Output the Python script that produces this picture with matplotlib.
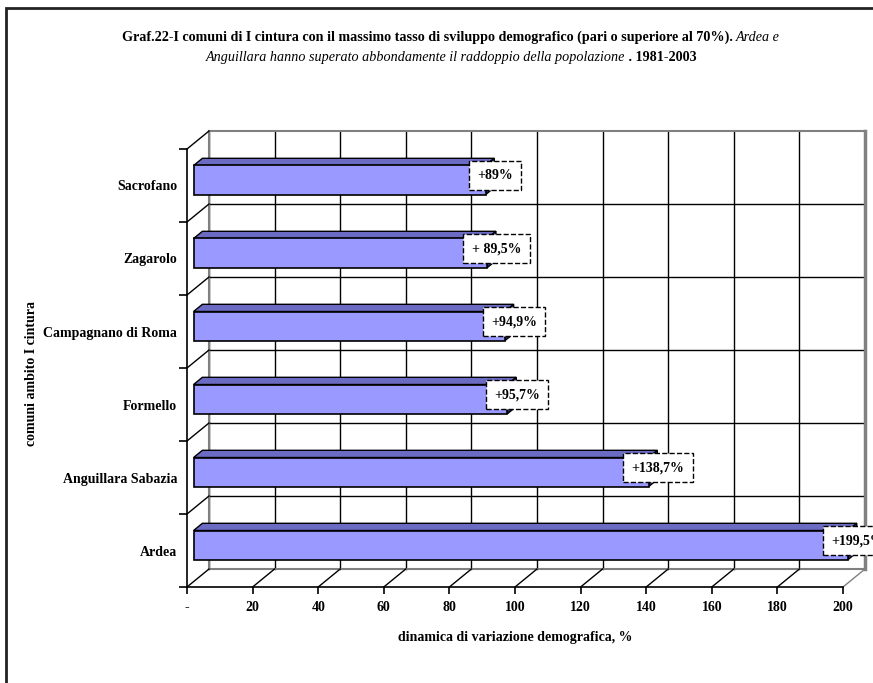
import matplotlib
matplotlib.use("Agg")
import matplotlib.pyplot as plt
from matplotlib.patches import Polygon, Rectangle

plt.rcParams['font.family'] = ['Liberation Serif', 'DejaVu Serif']

comuni = ['Sacrofano', 'Zagarolo', 'Campagnano di Roma', 'Formello',
          'Anguillara Sabazia', 'Ardea']
variazione = [89.0, 89.5, 94.9, 95.7, 138.7, 199.5]
etichette = ['+89%', '+ 89,5%', '+94,9%', '+95,7%', '+138,7%', '+199,5%']
x_ticks = [0, 20, 40, 60, 80, 100, 120, 140, 160, 180, 200]
x_ticklabels = ['-', '20', '40', '60', '80', '100', '120', '140', '160', '180', '200']

W, H = 873, 683
fig = plt.figure(figsize=(W / 100, H / 100), dpi=100)
fig.patch.set_facecolor('white')

# front plane of the 3D box
ax = fig.add_axes([187 / W, 1 - 587 / H, 656 / W, 438 / H])
n = len(comuni)
ax.set_xlim(0, 200)
ax.set_ylim(0, n)
ax.set_facecolor('none')

# depth offset of the 3D box, in data units
DX = 22 / (656 / 200)
DY = 18 / (438 / n)

grey = '#808080'
kw = dict(clip_on=False)

# back wall grid
for x in x_ticks[:-1]:
    ax.plot([x + DX, x + DX], [DY, n + DY], color='black', lw=1, zorder=1, **kw)
for j in range(1, n):
    ax.plot([DX, 200 + DX], [j + DY, j + DY], color='black', lw=1, zorder=1, **kw)
ax.plot([DX, 200 + DX], [n + DY, n + DY], color=grey, lw=1.5, zorder=1, **kw)
ax.plot([200 + DX, 200 + DX], [DY, n + DY], color=grey, lw=2.5, zorder=1, **kw)
ax.plot([DX, DX], [DY, n + DY], color=grey, lw=1.5, zorder=1, **kw)
ax.plot([DX, 200 + DX], [DY, DY], color=grey, lw=1.5, zorder=1, **kw)

# floor and side wall diagonals
for x in x_ticks:
    c = grey if x == 200 else 'black'
    ax.plot([x, x + DX], [0, DY], color=c, lw=1, zorder=1, **kw)
for j in range(1, n + 1):
    ax.plot([0, DX], [j, j + DY], color='black', lw=1, zorder=1, **kw)

# bars
d0, d1, h = 0.3, 0.7, 0.2
for i, (v, lab) in enumerate(zip(variazione, etichette)):
    c = n - i - 0.5
    x0, y0 = d0 * DX, d0 * DY
    x1, y1 = d1 * DX, d1 * DY
    front = Rectangle((x0, c - h + y0), v, 2 * h, fc='#9999FF', ec='black',
                      lw=1.2, zorder=3, **kw)
    top = Polygon([(x0, c + h + y0), (v + x0, c + h + y0),
                   (v + x1, c + h + y1), (x1, c + h + y1)],
                  closed=True, fc='#6B6BC4', ec='black', lw=1, zorder=3, **kw)
    end = Polygon([(v + x0, c - h + y0), (v + x0, c + h + y0),
                   (v + x1, c + h + y1), (v + x1, c - h + y1)],
                  closed=True, fc='#333380', ec='black', lw=1, zorder=3, **kw)
    ax.add_patch(top)
    ax.add_patch(end)
    ax.add_patch(front)
    ax.text(v + 0.5 * DX + 1.5, c + 0.55 * DY, lab, ha='center', va='center',
            fontsize=10, fontweight='bold', zorder=5,
            bbox=dict(boxstyle='square,pad=0.6', fc='white', ec='black',
                      ls='--', lw=1), **kw)

# axes
for s in ['top', 'right']:
    ax.spines[s].set_visible(False)
ax.spines['left'].set_linewidth(1.2)
ax.spines['bottom'].set_linewidth(1.2)
ax.set_xticks(x_ticks)
ax.set_xticklabels(x_ticklabels, fontsize=10, fontweight='bold')
ax.tick_params(axis='x', direction='out', length=5, width=1.2, pad=5)
ax.set_yticks(range(n + 1))
ax.set_yticklabels([])
ax.set_yticks([n - i - 0.5 for i in range(n)], minor=True)
ax.set_yticklabels(comuni, minor=True, fontsize=10, fontweight='bold')
ax.tick_params(axis='y', which='major', direction='out', length=6, width=1.2)
ax.tick_params(axis='y', which='minor', length=0, pad=7)

ax.set_xlabel('dinamica di variazione demografica, %', fontsize=10,
              fontweight='bold', labelpad=12)
fig.text(32 / W, 1 - 373 / H, 'comuni ambito I cintura', rotation=90,
         ha='center', va='center', fontsize=10, fontweight='bold')

# title with mixed styles
renderer = fig.canvas.get_renderer()


def title_line(pieces, y):
    texts = []
    for s, weight, style in pieces:
        t = fig.text(0, y, s, fontsize=10.2, fontweight=weight, fontstyle=style,
                     ha='left', va='baseline')
        texts.append(t)
    widths = [t.get_window_extent(renderer).width for t in texts]
    x = 451 - sum(widths) / 2
    for t, w in zip(texts, widths):
        t.set_x(x / W)
        x += w


title_line([('Graf.22-I comuni di I cintura con il massimo tasso di sviluppo '
             'demografico (pari o superiore al 70%). ', 'bold', 'normal'),
            ('Ardea e', 'normal', 'italic')], 1 - 41 / H)
title_line([('Anguillara hanno superato abbondamente il raddoppio della '
             'popolazione', 'normal', 'italic'),
            (' . 1981-2003', 'bold', 'normal')], 1 - 61 / H)

# outer border
fig.add_artist(Rectangle((6 / W, -0.1), 1.2, 1.1 - 8 / H, transform=fig.transFigure,
                         fill=False, ec='#222222', lw=2))

fig.savefig('out.png', dpi=100)
